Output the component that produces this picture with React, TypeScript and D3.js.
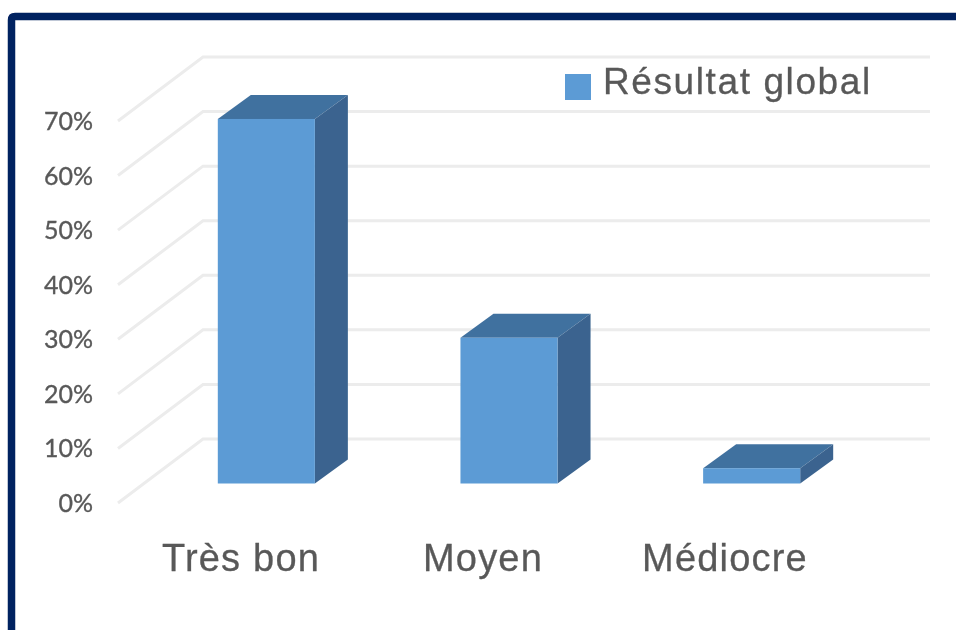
import React from "react";
import * as d3 from "d3";

const categories = ["Très bon", "Moyen", "Médiocre"];
const values = [66.8, 26.7, 2.8];
const ticks = [0, 10, 20, 30, 40, 50, 60, 70];
const legendLabel = "Résultat global";

const W = 956, H = 630;
const wallDX = 85, wallDY = -64;
const depthDX = 33, depthDY = -24;

const yFront = d3.scaleLinear().domain([0, 70]).range([503, 121]);
const yBar = d3.scaleLinear().domain([0, 70]).range([483.5, 101.5]);
const x = d3.scaleBand<string>().domain(categories).range([145, 873]).paddingInner(0.6).paddingOuter(0.3);

const FACE = "#5b9bd5", TOP = "#41719f", SIDE = "#3b648f";
const TEXT = "#595959";

export default function App() {
  return (
    <svg width={W} height={H} viewBox={`0 0 ${W} ${H}`} style={{ position: "absolute", left: 0, top: 0, background: "#fff" }}>
      <defs>
        <filter id="soft" x="-2%" y="-2%" width="104%" height="104%">
          <feGaussianBlur stdDeviation="0.55" />
        </filter>
      </defs>
      <g filter="url(#soft)">
        <path d={`M11.5 ${H + 5} V20 Q11.5 16.5 15 16.5 H${W + 5}`} fill="none" stroke="#002060" strokeWidth={7.5} />
        {ticks.map(t => {
          const y0 = yFront(t);
          return (
            <g key={t}>
              <path d={`M118 ${y0} L${118 + wallDX} ${y0 + wallDY} H930`} fill="none" stroke="#ececec" strokeWidth={3} />
              <text x={93} y={y0 + 9} textAnchor="end" fontFamily="Lato" fontSize={25} stroke={TEXT} strokeWidth={0.35} fill={TEXT}>{t}%</text>
            </g>
          );
        })}
        {categories.map((c, i) => {
          const l = x(c)!, r = l + x.bandwidth();
          const t = yBar(values[i]), b = yBar(0);
          const dx = depthDX, dy = depthDY;
          return (
            <g key={c}>
              <path d={`M${l} ${t} L${l + dx} ${t + dy} H${r + dx} L${r} ${t} Z`} fill={TOP} />
              <path d={`M${r} ${t} L${r + dx} ${t + dy} V${b + dy} L${r} ${b} Z`} fill={SIDE} />
              <rect x={l} y={t} width={x.bandwidth()} height={b - t} fill={FACE} />
            </g>
          );
        })}
        {categories.map((c, i) => (
          <text key={c} x={[241, 483, 725][i]} y={571} textAnchor="middle" fontFamily="Liberation Sans" fontSize={38} letterSpacing={1.2} stroke={TEXT} strokeWidth={0.3} fill={TEXT}>{c}</text>
        ))}
        <rect x={565} y={74} width={26} height={26} fill={FACE} />
        <text x={603} y={94} fontFamily="Liberation Sans" fontSize={37} letterSpacing={1.6} stroke={TEXT} strokeWidth={0.3} fill={TEXT}>{legendLabel}</text>
      </g>
    </svg>
  );
}
